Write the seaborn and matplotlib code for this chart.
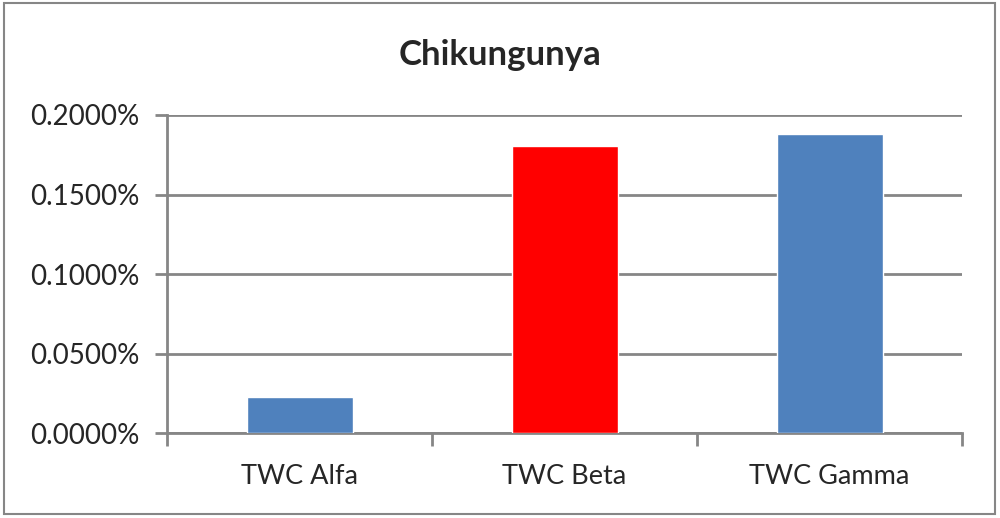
# Chikungunya - reproduction du graphique Excel
import matplotlib
matplotlib.use("Agg")
import matplotlib.pyplot as plt
import seaborn as sns
import pandas as pd
from matplotlib.patches import Rectangle
from matplotlib.ticker import FuncFormatter

# Données
categories = ["TWC Alfa", "TWC Beta", "TWC Gamma"]
valeurs = [0.0226, 0.1805, 0.1880]  # en %
couleurs = ["#4F81BD", "#FF0000", "#4F81BD"]
y_ticks = [0.0, 0.05, 0.10, 0.15, 0.20]

sns.set_theme(style="white")
plt.rcParams['font.family'] = ['Lato', 'DejaVu Sans']

df = pd.DataFrame({"cat": categories, "val": valeurs})

fig = plt.figure(figsize=(10, 5.18), dpi=100)
ax = fig.add_axes([0.167, 0.164, 0.795, 0.614])

sns.barplot(data=df, x="cat", y="val", hue="cat", palette=couleurs,
            width=0.4, legend=False, ax=ax, saturation=1, zorder=3)

ax.set_ylim(0, 0.2)
ax.set_xlim(-0.5, len(categories) - 0.5)
ax.set_yticks(y_ticks)
ax.yaxis.set_major_formatter(FuncFormatter(lambda v, p: f"{v:.4f}%"))
ax.yaxis.grid(True, color="#868686", linewidth=2, zorder=0)
ax.set_axisbelow(True)

# graduations x aux frontières des catégories
ax.set_xticks([i - 0.5 for i in range(len(categories) + 1)])
ax.set_xticklabels([])
ax.set_xticks(range(len(categories)), minor=True)
ax.set_xticklabels(categories, minor=True)
ax.tick_params(axis="x", which="major", direction="out", length=9, width=2, color="#868686", bottom=True)
ax.tick_params(axis="x", which="minor", length=0, labelsize=19.5, pad=22)
ax.tick_params(axis="y", direction="out", length=9, width=2, color="#868686", left=True, labelsize=20, pad=11)

for s in ["top", "right"]:
    ax.spines[s].set_visible(False)
for s in ["left", "bottom"]:
    ax.spines[s].set_color("#868686")
    ax.spines[s].set_linewidth(2)

ax.set_xlabel("")
ax.set_ylabel("")
fig.text(0.5, 0.893, "Chikungunya", ha="center", va="center", fontsize=25, fontweight="bold")

# cadre extérieur
fig.patches.append(Rectangle((0.004, 0.008), 0.991, 0.986, transform=fig.transFigure,
                             fill=False, edgecolor="#868686", linewidth=1.5))

fig.savefig("out.png", dpi=100)
